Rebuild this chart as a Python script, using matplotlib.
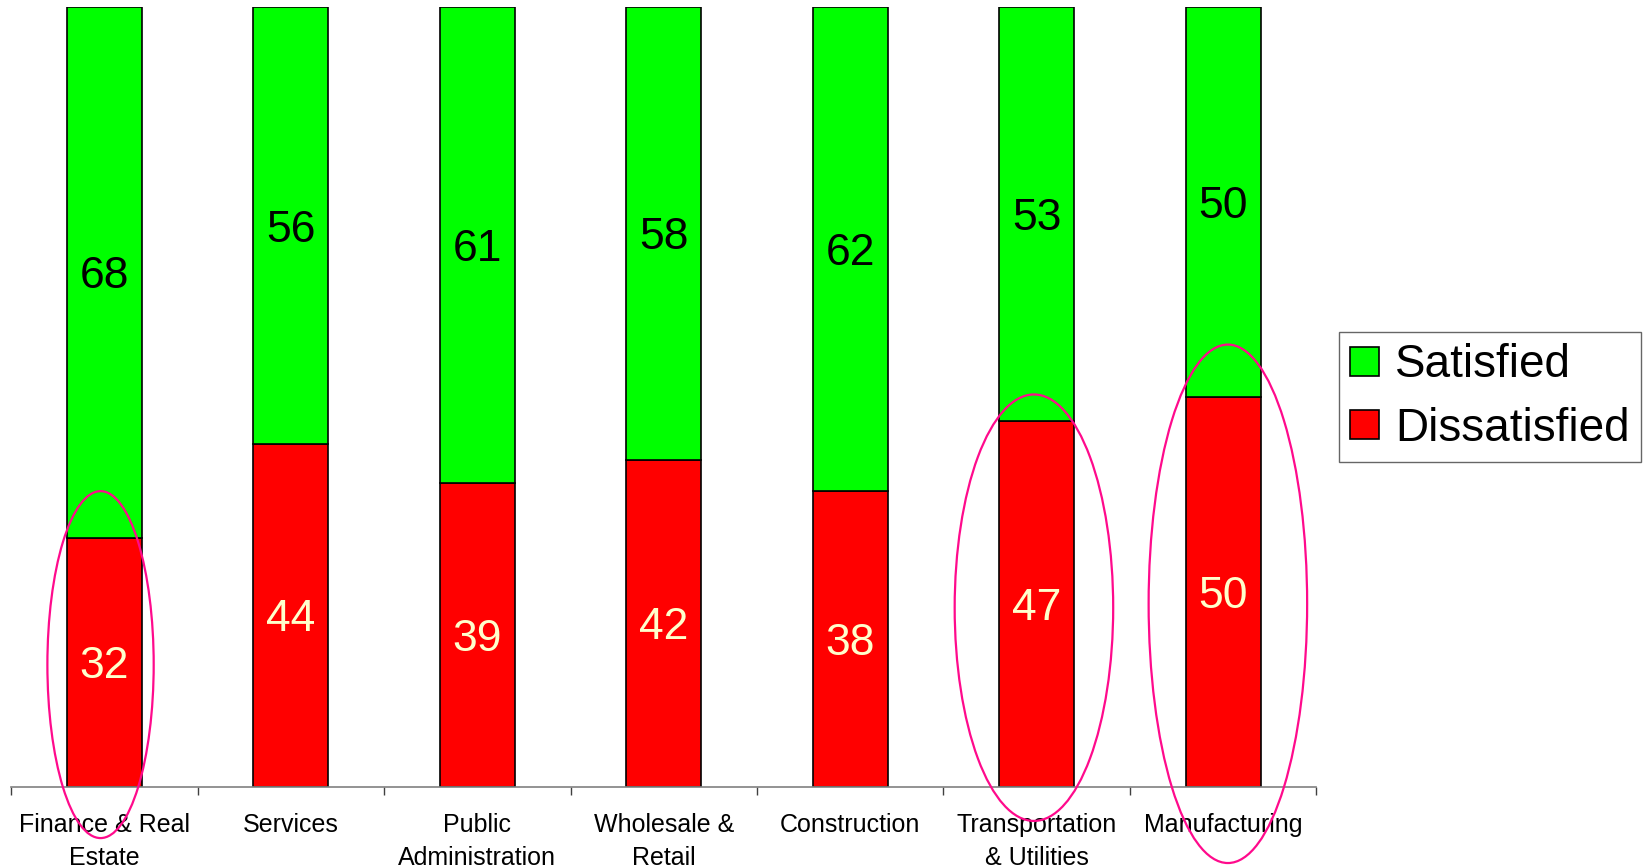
import numpy as np
import matplotlib.pyplot as plt
from matplotlib.patches import Ellipse

plt.rcParams['font.family'] = ['Liberation Sans', 'DejaVu Sans']

categories = ['Finance & Real\nEstate', 'Services', 'Public\nAdministration', 'Wholesale &\nRetail',
              'Construction', 'Transportation\n& Utilities', 'Manufacturing']
dissatisfied = [32, 44, 39, 42, 38, 47, 50]
satisfied = [68, 56, 61, 58, 62, 53, 50]

# highlighted bars: (centre x, centre y, ellipse width, ellipse height)
highlights = [(-0.02, 15.7, 0.57, 44.5), (4.985, 23.0, 0.85, 54.7), (6.025, 23.5, 0.85, 66.5)]

fig = plt.figure(figsize=(16.46, 8.68), dpi=100)
ax = fig.add_axes([0.0067, 0.0933, 0.7931, 0.8982])

x = np.arange(len(categories))
bars_d = ax.bar(x, dissatisfied, width=0.4, color='#ff0000', edgecolor='black', linewidth=1.2,
                label='Dissatisfied')
bars_s = ax.bar(x, satisfied, width=0.4, bottom=dissatisfied, color='#00ff00', edgecolor='black',
                linewidth=1.2, label='Satisfied')

for i in range(len(categories)):
    ax.text(x[i], dissatisfied[i] / 2, str(dissatisfied[i]), ha='center', va='center_baseline',
            fontsize=32, color='#ffffcc')
    ax.text(x[i], dissatisfied[i] + satisfied[i] / 2, str(satisfied[i]), ha='center',
            va='center_baseline', fontsize=32, color='black')

for cx, cy, w, h in highlights:
    ax.add_patch(Ellipse((cx, cy), w, h, fill=False, edgecolor='#ff0a8c', linewidth=1.6,
                         clip_on=False, zorder=5))

ax.set_xlim(-0.5, len(categories) - 0.5)
ax.set_ylim(0, 100)
ax.set_yticks([])
for s in ['left', 'right', 'top']:
    ax.spines[s].set_visible(False)
ax.spines['bottom'].set_color('#808080')
ax.spines['bottom'].set_linewidth(1.2)

ax.set_xticks(x)
ax.set_xticklabels(categories, fontsize=18, linespacing=1.45)
ax.tick_params(axis='x', which='major', length=0, pad=19)
ax.set_xticks(np.arange(-0.5, len(categories)), minor=True)
ax.tick_params(axis='x', which='minor', length=6, width=1.0, color='#404040')

leg = fig.legend([bars_s, bars_d], ['Satisfied', 'Dissatisfied'], loc='center left',
                 bbox_to_anchor=(0.8135, 0.5426), fontsize=33, frameon=True, fancybox=False,
                 handlelength=0.62, handleheight=0.6, handletextpad=0.35, labelspacing=0.42,
                 borderpad=0.25, borderaxespad=0)
leg.get_frame().set_edgecolor('#404040')
leg.get_frame().set_linewidth(1.0)

fig.savefig('out.png', dpi=100)
